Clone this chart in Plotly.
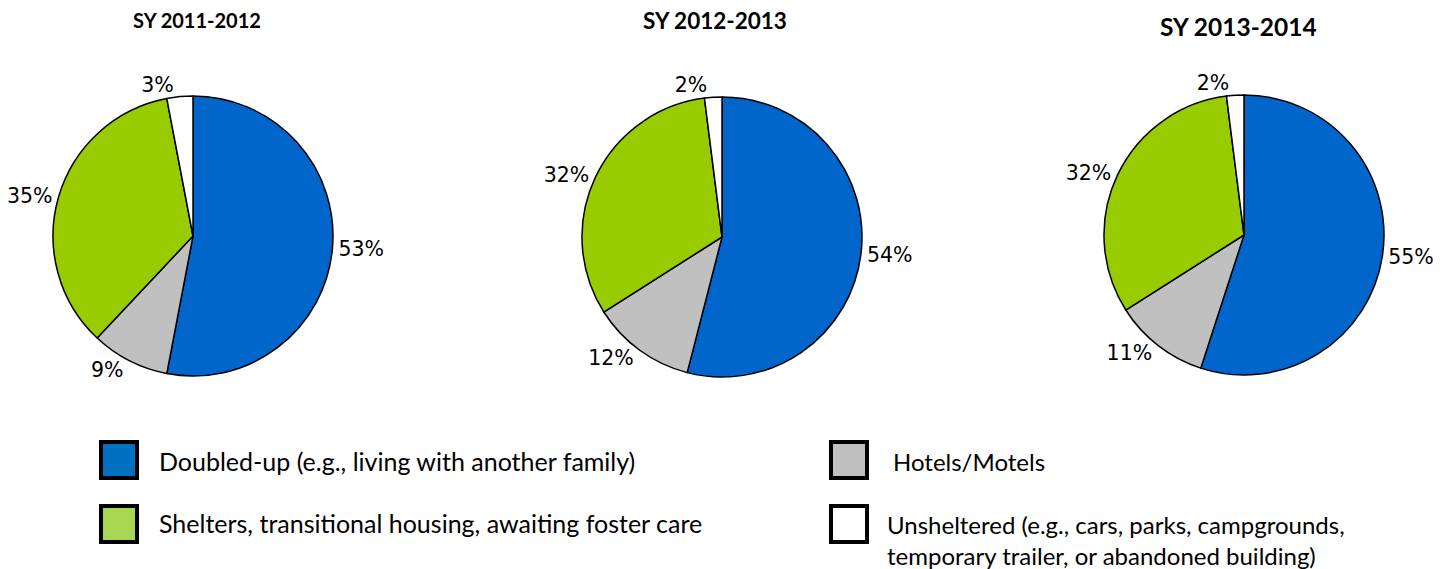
import plotly.graph_objects as go

W, H = 1454, 569

categories = ["Doubled-up (e.g., living with another family)", "Hotels/Motels",
              "Shelters, transitional housing, awaiting foster care",
              "Unsheltered (e.g., cars, parks, campgrounds, temporary trailer, or abandoned building)"]
years = ["SY 2011-2012", "SY 2012-2013", "SY 2013-2014"]
values_2011 = [53, 9, 35, 3]
values_2012 = [54, 12, 32, 2]
values_2013 = [55, 11, 32, 2]
all_values = [values_2011, values_2012, values_2013]

pie_colors = ["#0066CC", "#C0C0C0", "#99CC00", "#FFFFFF"]
legend_colors = ["#0070C0", "#C0C0C0", "#A9D651", "#FFFFFF"]

# layout: pie centres / radius in pixels
centers = [(193, 236), (722, 237), (1244, 235)]
R = 140
title_pos = [(197, 20, 20), (715, 21, 22.5), (1238, 27, 24.5)]

fig = go.Figure()
for vals, (cx, cy), name in zip(all_values, centers, years):
    fig.add_trace(go.Pie(
        labels=categories, values=vals, name=name,
        sort=False, direction="clockwise", rotation=0,
        marker=dict(colors=pie_colors, line=dict(color="black", width=1.5)),
        texttemplate="%{value}%", textposition="outside",
        outsidetextfont=dict(family="DejaVu Sans", size=20.5, color="black"),
        showlegend=False, hoverinfo="label+value",
        domain=dict(x=[(cx - R) / W, (cx + R) / W], y=[1 - (cy + R) / H, 1 - (cy - R) / H]),
    ))

annotations = []
for (tx, ty, ts), name in zip(title_pos, years):
    annotations.append(dict(text="<b>%s</b>" % name, x=tx / W, y=1 - ty / H, xref="paper", yref="paper",
                            showarrow=False, xanchor="center", yanchor="middle",
                            font=dict(family="Lato", size=ts, color="black")))

shapes = []
leg_boxes = [(99, 440), (829, 440), (99, 504), (829, 504)]
leg_order = [0, 1, 2, 3]
leg_texts = ["Doubled-up (e.g., living with another family)", "Hotels/Motels",
             "Shelters, transitional housing, awaiting foster care",
             "Unsheltered (e.g., cars, parks, campgrounds,<br>temporary trailer, or abandoned building)"]
leg_text_x = [157, 891, 157, 885]
leg_text_y = [461, 461, 523, 540]
for (bx, by), idx, txt, lx, ly in zip(leg_boxes, leg_order, leg_texts, leg_text_x, leg_text_y):
    shapes.append(dict(type="rect", xref="paper", yref="paper",
                       x0=(bx + 2) / W, x1=(bx + 38) / W, y0=1 - (by + 2) / H, y1=1 - (by + 38) / H,
                       line=dict(color="black", width=4), fillcolor=legend_colors[idx]))
    annotations.append(dict(text=txt, x=lx / W, y=1 - ly / H, xref="paper", yref="paper",
                            showarrow=False, xanchor="left", yanchor="middle", align="left",
                            font=dict(family="Lato", size=25 if idx in (0, 2) else 24, color="black")))

fig.update_layout(width=W, height=H, margin=dict(l=0, r=0, t=0, b=0),
                  paper_bgcolor="white", plot_bgcolor="white",
                  annotations=annotations, shapes=shapes)
fig.write_html("out.html", config={"displayModeBar": False},
               post_script="document.body.style.margin='0';")
